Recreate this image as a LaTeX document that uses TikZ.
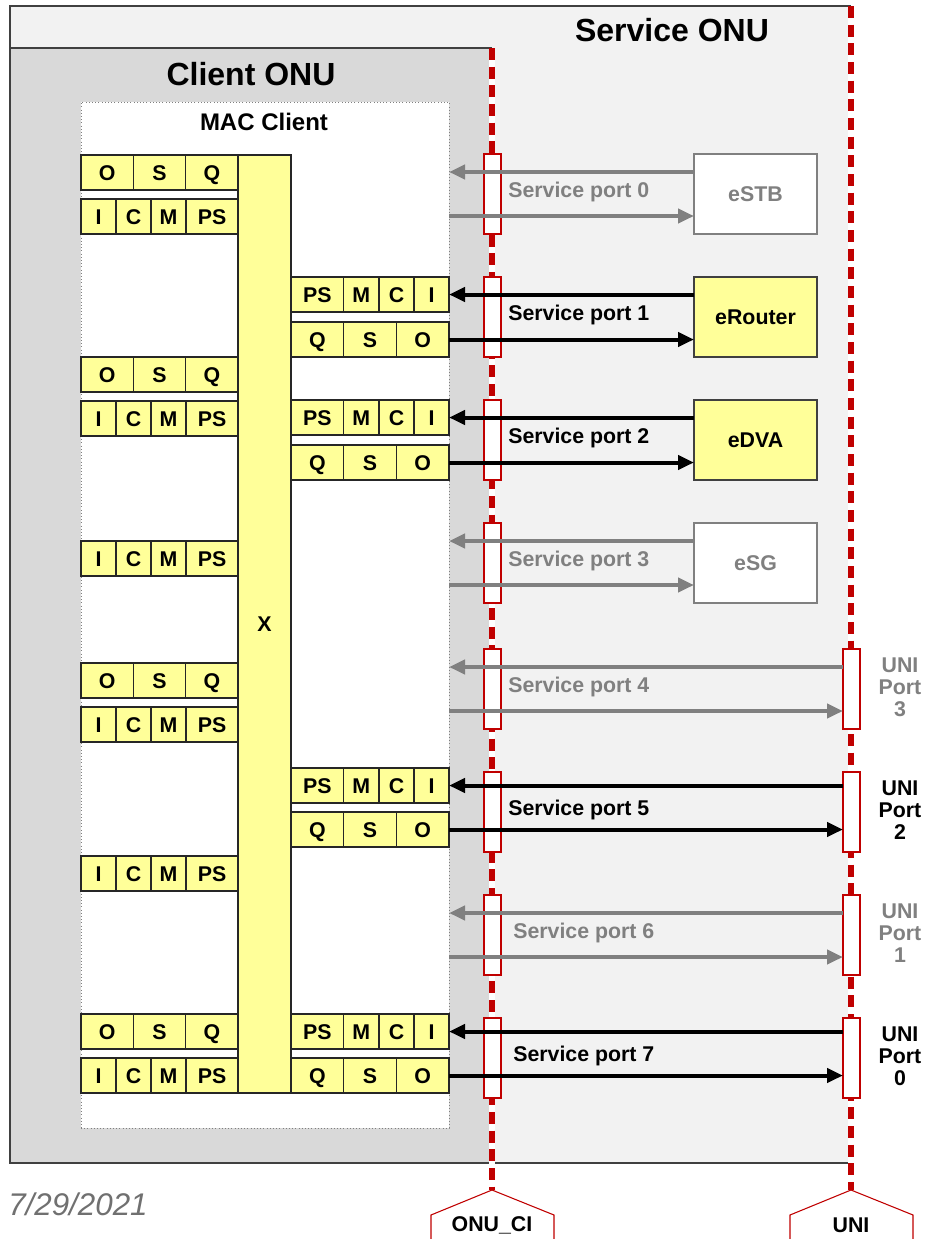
\documentclass[tikz,border=0pt]{standalone}
\usepackage{fontspec}
\setmainfont{Liberation Sans}
\usepackage{tikz}
\usetikzlibrary{arrows.meta,positioning}
\definecolor{onuRed}{RGB}{192,0,0}
\definecolor{cellYellow}{RGB}{255,255,153}
\definecolor{svcGray}{RGB}{242,242,242}
\definecolor{cliGray}{RGB}{217,217,217}
\definecolor{offGray}{RGB}{128,128,128}
\definecolor{edgeGray}{RGB}{64,64,64}
\definecolor{dateGray}{RGB}{112,112,112}

\tikzset{
  cell/.style={draw=black!85,line width=1.1pt,fill=cellYellow,inner sep=0pt,outer sep=0pt,
    minimum height=26.25pt,text height=11.5pt,text depth=0pt,font=\fontsize{16}{17}\selectfont\bfseries},
  wide/.style={cell,minimum width=39.25pt},
  narrow/.style={cell,minimum width=26.25pt},
  rwide/.style={cell,minimum width=39.5pt},
  portbox/.style={draw=onuRed,line width=1.4pt,fill=white,inner sep=0pt,outer sep=0pt,
    minimum width=12.75pt,minimum height=60pt},
  devbox/.style={draw,line width=1pt,inner sep=0pt,outer sep=0pt,minimum width=92.25pt,
    minimum height=60pt,font=\fontsize{16}{19}\selectfont\bfseries},
  plabel/.style={anchor=west,inner sep=0pt,font=\fontsize{16}{19}\selectfont\bfseries},
  unilabel/.style={align=center,inner sep=0pt,font=\fontsize{16}{16.5}\selectfont\bfseries},
  title/.style={inner sep=0pt,font=\fontsize{24}{28}\selectfont\bfseries},
  tag/.style={inner sep=0pt,font=\fontsize{16}{19}\selectfont\bfseries},
  refline/.style={onuRed,line width=5pt,dash pattern=on 9pt off 5pt},
  arr/.style={line width=3pt,-{Triangle[length=12pt,width=10.5pt]}},
  live/.style={black},
  idle/.style={offGray},
}

% rows of queue cells: name, top y
\newcommand{\osqrow}[2]{%
  \node[wide] (#1-O) at (107.2,{#2+17.5}) {O};
  \node[wide] (#1-S) at (159.5,{#2+17.5}) {S};
  \node[wide] (#1-Q) at (211.8,{#2+17.5}) {Q};}
\newcommand{\icmrow}[2]{%
  \node[narrow] (#1-I) at (98.5,{#2+17.5}) {I};
  \node[narrow] (#1-C) at (133.5,{#2+17.5}) {C};
  \node[narrow] (#1-M) at (168.5,{#2+17.5}) {M};
  \node[cell,minimum width=39pt] (#1-PS) at (212,{#2+17.5}) {PS};}
\newcommand{\psmrow}[2]{%
  \node[rwide] (#1-PS) at (317.35,{#2+17.5}) {PS};
  \node[cell,minimum width=26.5pt] (#1-M) at (361.35,{#2+17.5}) {M};
  \node[narrow] (#1-C) at (396.5,{#2+17.5}) {C};
  \node[narrow] (#1-I) at (431.5,{#2+17.5}) {I};}
\newcommand{\qsorow}[2]{%
  \node[rwide] (#1-Q) at (317.35,{#2+17.5}) {Q};
  \node[rwide] (#1-S) at (370.05,{#2+17.5}) {S};
  \node[rwide] (#1-O) at (422.75,{#2+17.5}) {O};}
% service port: number, top y, colour, label x
\newcommand{\svcport}[4]{%
  \node[portbox] (sp#1) at (492.5,{#2+40}) {};
  \coordinate (up#1) at (449,{#2+18});
  \coordinate (dn#1) at (449,{#2+62});
  \node[plabel,#3] (spl#1) at (#4,{#2+38}) {Service port #1};}
% UNI port: name, number, top y, colour
\newcommand{\uniport}[4]{%
  \node[portbox] (#1) at (851.5,{#3+40}) {};
  \node[unilabel,#4] (#1-lab) at (900,{#3+38}) {UNI\\Port\\#2};}

\begin{document}
\begin{tikzpicture}[x=0.75pt,y=-0.75pt]
  \useasboundingbox (0,0) rectangle (927,1239);
  % ONU areas
  \fill[svcGray] (10,6) rectangle (851,1163);
  \fill[cliGray] (10,48) rectangle (492,1163);
  \draw[edgeGray,line width=1.5pt] (851,6) -- (10,6) -- (10,1163) -- (851,1163);
  \draw[edgeGray,line width=1.5pt] (10,48) -- (492,48);
  \node[title] (svcTitle) at (672,30) {Service ONU};
  \node[title] (cliTitle) at (251,74) {Client ONU};
  % Reference lines
  \coordinate (ciTop) at (492,48);
  \coordinate (ciEnd) at (492,1190);
  \coordinate (uniTop) at (851,6);
  \coordinate (uniEnd) at (851,1190);
  \draw[white,line width=5pt] (ciTop) -- (ciEnd);
  \draw[white,line width=5pt] (uniTop) -- (uniEnd);
  \draw[refline] (ciTop) -- (ciEnd);
  \draw[refline] (uniTop) -- (uniEnd);
  \draw[onuRed,fill=white,line width=0.8pt] (431,1260) -- (431,1215) -- (ciEnd) -- (554,1215) -- (554,1260);
  \draw[onuRed,fill=white,line width=0.8pt] (790,1260) -- (790,1215) -- (uniEnd) -- (913,1215) -- (913,1260);
  \node[tag] (ciTag) at (492,1225) {ONU\_CI};
  \node[tag] (uniTag) at (851,1225) {UNI};
  % MAC client
  \node[draw=gray,dotted,fill=white,inner sep=0pt,minimum width=276pt,minimum height=769.5pt] (mac) at (265,615) {};
  \node[inner sep=0pt,font=\fontsize{18}{21}\selectfont\bfseries] (macTitle) at (264,122) {MAC Client};
  \node[cell,minimum width=39.75pt,minimum height=703.5pt] (xbar) at (264.5,624) {X};
  % Left queues
  \osqrow{la}{155} \icmrow{lb}{199}
  \osqrow{lc}{357} \icmrow{ld}{401}
  \icmrow{le}{541}
  \osqrow{lf}{663} \icmrow{lg}{707}
  \icmrow{lh}{856}
  \osqrow{li}{1014} \icmrow{lj}{1058}
  % Right queues
  \psmrow{p1}{277} \qsorow{q1}{322}
  \psmrow{p2}{400} \qsorow{q2}{445}
  \psmrow{p5}{768} \qsorow{q5}{812}
  \psmrow{p7}{1014} \qsorow{q7}{1058}
  % Service ports
  \svcport{0}{154}{idle}{508}
  \svcport{1}{277}{live}{508}
  \svcport{2}{400}{live}{508}
  \svcport{3}{523}{idle}{508}
  \svcport{4}{649}{idle}{508}
  \svcport{5}{772}{live}{508}
  \svcport{6}{895}{idle}{513}
  \svcport{7}{1018}{live}{513}
  % Devices and UNI ports
  \node[devbox,idle,fill=white] (eSTB) at (755.5,194) {eSTB};
  \node[devbox,draw=edgeGray,fill=cellYellow] (eRouter) at (755.5,317) {eRouter};
  \node[devbox,draw=edgeGray,fill=cellYellow] (eDVA) at (755.5,440) {eDVA};
  \node[devbox,idle,fill=white] (eSG) at (755.5,563) {eSG};
  \uniport{uni3}{3}{649}{idle}
  \uniport{uni2}{2}{772}{live}
  \uniport{uni1}{1}{895}{idle}
  \uniport{uni0}{0}{1018}{live}
  % Flows
  \draw[arr,idle] (eSTB.west |- up0) -- (up0);
  \draw[arr,idle] (dn0) -- (eSTB.west |- dn0);
  \draw[arr,live] (eRouter.west |- p1-I) -- (p1-I.east);
  \draw[arr,live] (q1-O.east) -- (eRouter.west |- q1-O);
  \draw[arr,live] (eDVA.west |- p2-I) -- (p2-I.east);
  \draw[arr,live] (q2-O.east) -- (eDVA.west |- q2-O);
  \draw[arr,idle] (eSG.west |- up3) -- (up3);
  \draw[arr,idle] (dn3) -- (eSG.west |- dn3);
  \draw[arr,idle] (uni3.west |- up4) -- (up4);
  \draw[arr,idle] (dn4) -- (uni3.west |- dn4);
  \draw[arr,live] (uni2.west |- p5-I) -- (p5-I.east);
  \draw[arr,live] (q5-O.east) -- (uni2.west |- q5-O);
  \draw[arr,idle] (uni1.west |- up6) -- (up6);
  \draw[arr,idle] (dn6) -- (uni1.west |- dn6);
  \draw[arr,live] (uni0.west |- p7-I) -- (p7-I.east);
  \draw[arr,live] (q7-O.east) -- (uni0.west |- q7-O);
  % Date
  \node[anchor=west,inner sep=0pt,dateGray,font=\fontsize{23.5}{26}\selectfont\itshape] (date) at (8,1204) {7/29/2021};
\end{tikzpicture}
\end{document}
